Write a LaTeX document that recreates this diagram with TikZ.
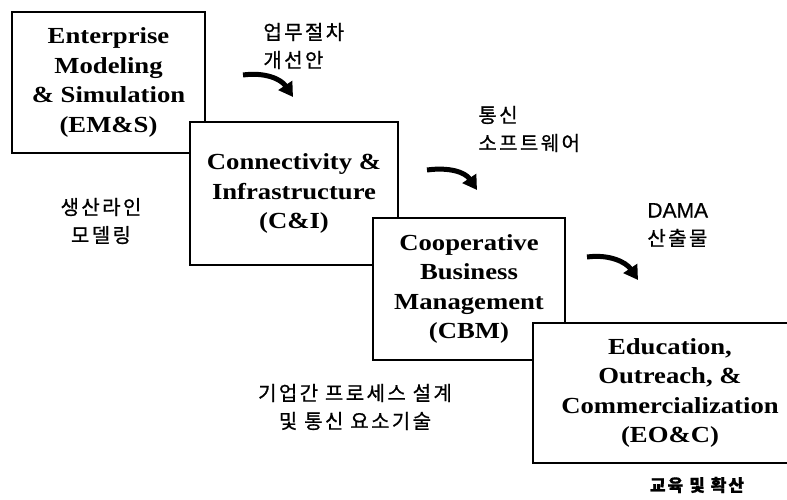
\documentclass[tikz,border=0pt]{standalone}
\usepackage{fontspec}
\setmainfont{Liberation Serif}
\newfontfamily\boxfont[FakeStretch=1.16]{Liberation Serif}
\newfontfamily\krfont[LetterSpace=12,FakeBold=0.8]{Noto Sans CJK KR}
\newfontfamily\latfont[FakeBold=0.5]{Liberation Sans}
\usetikzlibrary{arrows.meta}

\tikzset{
  stagebox/.style={draw, line width=1pt, fill=white, align=center, inner sep=0pt,
    font=\boxfont\bfseries\fontsize{11.5}{14.8}\selectfont},
  note/.style={align=center, inner sep=0pt, font=\krfont\fontsize{10}{14}\selectfont},
  bendarrow/.style={line width=2.5pt, -{Triangle[length=7pt,width=8pt]}}
}

\begin{document}
\begin{tikzpicture}[x=0.5pt,y=-0.5pt]
\clip (0,0) rectangle (787,499);
\fill[white] (0,0) rectangle (787,499);
% stages, each laid over the one before
\node[stagebox, minimum width=96.5pt, minimum height=70.5pt] (ems) at (108.5,82.5)
  {Enterprise\\Modeling\\\& Simulation\\(EM\&S)};
\node[stagebox, minimum width=104pt, minimum height=71.5pt] (cai) at (294,193.5)
  {Connectivity \&\\Infrastructure\\(C\&I)};
\node[stagebox, minimum width=96pt, minimum height=71pt] (cbm) at (469,289)
  {Cooperative\\Business\\Management\\(CBM)};
\node[stagebox, minimum width=137pt, minimum height=70pt] (eoc) at (670,393)
  {Education,\\Outreach, \&\\Commercialization\\(EO\&C)};
% notes
\node[note, anchor=west, align=left] (procnote) at (263,46) {업무절차\\개선안};
\node[note, anchor=west, align=left] (swnote) at (478,129) {통신\\소프트웨어};
\node[note, anchor=west, align=left] (damanote) at (647,225) {{\latfont\fontsize{10.5}{14}\selectfont DAMA}\\산출물};
\node[note] (linenote) at (101,221) {생산라인\\모델링};
\node[note] (technote) at (355,407) {기업간 프로세스 설계\\및 통신 요소기술};
\node[note, font=\krfont\bfseries\fontsize{8.5}{10}\selectfont] (edunote) at (697,485) {교육 및 확산};
% curved arrows
\foreach \n/\sx/\sy/\ex/\ey in {fa/243/75/293/97, fb/427/170/477/190, fc/587/257/638/280} {
  \coordinate (\n s) at (\sx,\sy);
  \coordinate (\n e) at (\ex,\ey);
  \draw[bendarrow] (\n s) .. controls +(22,-3) and +(-12,-18) .. (\n e);
}
\end{tikzpicture}
\end{document}
